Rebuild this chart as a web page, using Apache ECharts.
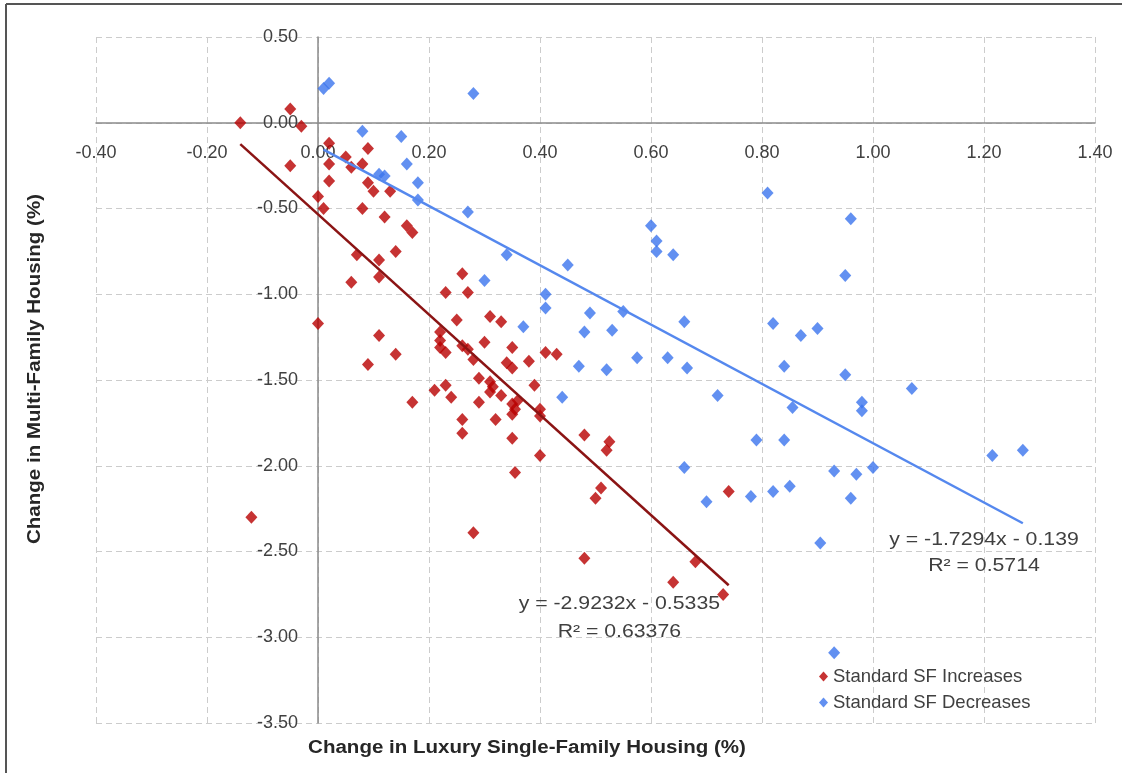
<!DOCTYPE html>
<html>
	<head>
		<meta charset="UTF-8">
		<title>Luxury SF vs Multi-Family</title>
		<style>
			html,body{margin:0;padding:0;background:#fff;}
			#main{width:1122px;height:773px;}
		</style>
	</head>
	<body>
		<div id="main"></div>
	</body>
	<script src="https://cdn.jsdelivr.net/npm/echarts@6.0.0/dist/echarts.min.js"></script>
	<script type="text/javascript">
		// Standard SF Increases
		var incX = [-0.14,-0.05,-0.03,-0.05,0.02,0.02,0.02,0.00,0.01,0.05,0.06,0.08,0.09,0.09,0.10,0.13,0.08,0.12,0.16,0.17,
			0.14,0.07,0.11,0.06,0.11,0.26,0.23,0.27,0.00,0.11,0.14,0.09,0.17,0.25,0.31,0.33,0.22,0.22,0.22,0.23,
			0.26,0.27,0.28,0.30,0.35,0.34,0.35,0.29,0.31,0.315,0.31,0.33,0.21,0.23,0.24,0.29,0.26,0.26,0.32,0.35,
			0.35,0.35,0.355,0.38,0.41,0.43,0.39,0.36,0.355,0.40,0.40,0.40,0.48,0.525,0.52,0.51,0.50,0.74,0.48,0.68,
			0.64,0.73,-0.12,0.28];
		var incY = [0.00,0.08,-0.02,-0.25,-0.12,-0.24,-0.34,-0.43,-0.50,-0.20,-0.26,-0.24,-0.15,-0.35,-0.40,-0.40,-0.50,-0.55,-0.60,-0.64,
			-0.75,-0.77,-0.80,-0.93,-0.90,-0.88,-0.99,-0.99,-1.17,-1.24,-1.35,-1.41,-1.63,-1.15,-1.13,-1.16,-1.22,-1.27,-1.31,-1.34,
			-1.30,-1.32,-1.38,-1.28,-1.31,-1.40,-1.43,-1.49,-1.51,-1.54,-1.57,-1.59,-1.56,-1.53,-1.60,-1.63,-1.73,-1.81,-1.73,-1.64,
			-1.70,-1.84,-2.04,-1.39,-1.34,-1.35,-1.53,-1.62,-1.67,-1.67,-1.71,-1.94,-1.82,-1.86,-1.91,-2.13,-2.19,-2.15,-2.54,-2.56,
			-2.68,-2.75,-2.30,-2.39];
		// Standard SF Decreases
		var decX = [0.01,0.02,0.08,0.15,0.16,0.18,0.18,0.11,0.12,0.28,0.27,0.34,0.60,0.61,0.61,0.64,0.81,0.96,0.45,0.41,
			0.41,0.37,0.49,0.48,0.53,0.55,0.66,0.47,0.52,0.575,0.63,0.665,0.44,0.72,0.66,0.79,0.84,0.82,0.87,0.90,
			0.84,0.855,0.95,0.95,0.98,0.98,1.07,1.215,1.27,0.93,0.97,1.00,0.70,0.78,0.82,0.85,0.96,0.905,0.93,0.30];
		var decY = [0.20,0.23,-0.05,-0.08,-0.24,-0.35,-0.45,-0.30,-0.31,0.17,-0.52,-0.77,-0.60,-0.69,-0.75,-0.77,-0.41,-0.56,-0.83,-1.00,
			-1.08,-1.19,-1.11,-1.22,-1.21,-1.10,-1.16,-1.42,-1.44,-1.37,-1.37,-1.43,-1.60,-1.59,-2.01,-1.85,-1.85,-1.17,-1.24,-1.20,
			-1.42,-1.66,-0.89,-1.47,-1.63,-1.68,-1.55,-1.94,-1.91,-2.03,-2.05,-2.01,-2.21,-2.18,-2.15,-2.12,-2.19,-2.45,-3.09,-0.92];
		// trendline coefficients (slope, intercept)
		var incFit = [-2.9232, -0.5335];
		var decFit = [-1.7294, -0.139];
		var incFitText = ['y = -2.9232x - 0.5335', 'R\u00b2 = 0.63376'];
		var decFitText = ['y = -1.7294x - 0.139', 'R\u00b2 = 0.5714'];
		// axis ranges
		var xMin = -0.4, xMax = 1.4, xStep = 0.2;
		var yMin = -3.5, yMax = 0.5, yStep = 0.5;

		function pairs(xs, ys){
			var out = [];
			for(var i=0;i<xs.length;i++){ out.push([xs[i], ys[i]]); }
			return out;
		}
		//趋势线：从最小x画到最大x
		function fitLine(xs, fit){
			var lo = Math.min.apply(null, xs), hi = Math.max.apply(null, xs);
			return [[lo, fit[0]*lo+fit[1]], [hi, fit[0]*hi+fit[1]]];
		}

		var font = 'Liberation Sans';
		var gl = 96, gt = 37, gw = 999, gh = 686;
		// axes cross at zero: shift each axis in from its edge
		var xOff = -gh * (0 - yMin) / (yMax - yMin);
		var yOff = -gw * (0 - xMin) / (xMax - xMin);
		var dash = {color: '#cccccc', type: [6,4], width: 1};

		var chart = echarts.init(document.getElementById('main'));
		var option = {
			backgroundColor: '#fff',
			animation: false,
			grid: {left: gl, top: gt, width: gw, height: gh, containLabel: false},
			legend: {
				data: ['Standard SF Increases', 'Standard SF Decreases'],
				orient: 'vertical', left: 814, top: 662, itemGap: 7,
				itemWidth: 9, itemHeight: 10, icon: 'diamond',
				textStyle: {fontFamily: font, fontSize: 18.5, color: '#404040'}
			},
			xAxis: {
				type: 'value', min: xMin, max: xMax, interval: xStep, position: 'bottom', offset: xOff,
				axisLine: {onZero: false, lineStyle: {color: '#8a8a8a', width: 1.5}},
				axisTick: {show: false},
				axisLabel: {margin: 21, fontFamily: font, fontSize: 18, color: '#404040',
					formatter: function(v){ return v.toFixed(2); }},
				splitLine: {show: true, lineStyle: dash}
			},
			yAxis: {
				type: 'value', min: yMin, max: yMax, interval: yStep, position: 'left', offset: yOff,
				axisLine: {onZero: false, lineStyle: {color: '#8a8a8a', width: 1.5}},
				axisTick: {show: false},
				axisLabel: {margin: 20, fontFamily: font, fontSize: 18, color: '#404040',
					formatter: function(v){ return v.toFixed(2); }},
				splitLine: {show: true, lineStyle: dash}
			},
			series: [
				{
					name: 'Standard SF Decreases', type: 'scatter', symbol: 'diamond', symbolSize: [12,13],
					itemStyle: {color: '#3b74ee'}, data: pairs(decX, decY), z: 3
				},
				{
					name: 'Standard SF Increases', type: 'scatter', symbol: 'diamond', symbolSize: [12,13],
					itemStyle: {color: '#b80000'}, data: pairs(incX, incY), z: 4
				},
				{
					name: 'inc trend', type: 'line', symbol: 'none', data: fitLine(incX, incFit),
					lineStyle: {color: '#8b1414', width: 2.5}, z: 5
				},
				{
					name: 'dec trend', type: 'line', symbol: 'none', data: fitLine(decX, decFit),
					lineStyle: {color: '#5588ee', width: 2.5}, z: 5
				}
			]
		};
		chart.setOption(option);

		//标注文字位置按数据坐标换算
		function at(x, y){ return chart.convertToPixel({gridIndex: 0}, [x, y]); }
		function label(p, txt, bold, rot, sx){
			return {
				type: 'text', x: p[0], y: p[1], rotation: rot || 0, scaleX: sx || 1, z: 10,
				style: {text: txt, fill: bold ? '#262626' : '#404040', align: 'center', verticalAlign: 'middle',
					font: (bold ? 'bold 18px ' : '18px ') + font}
			};
		}
		var g = [];
		g.push(label(at(0.543, -2.806), incFitText[0], false, 0, 1.18));
		g.push(label(at(0.543, -2.97), incFitText[1], false, 0, 1.18));
		g.push(label(at(1.20, -2.433), decFitText[0], false, 0, 1.18));
		g.push(label(at(1.20, -2.585), decFitText[1], false, 0, 1.18));
		g.push(label([527, 748], 'Change in Luxury Single-Family Housing (%)', true, 0, 1.14));
		g.push(label([35, 369], 'Change in Multi-Family Housing (%)', true, Math.PI/2, 1.14));
		// outer frame (left and top edges)
		g.push({type: 'line', shape: {x1: 6, y1: 4, x2: 6, y2: 773}, style: {stroke: '#555', lineWidth: 2}});
		g.push({type: 'line', shape: {x1: 6, y1: 4, x2: 1122, y2: 4}, style: {stroke: '#555', lineWidth: 2}});
		chart.setOption({graphic: g});
	</script>
</html>
